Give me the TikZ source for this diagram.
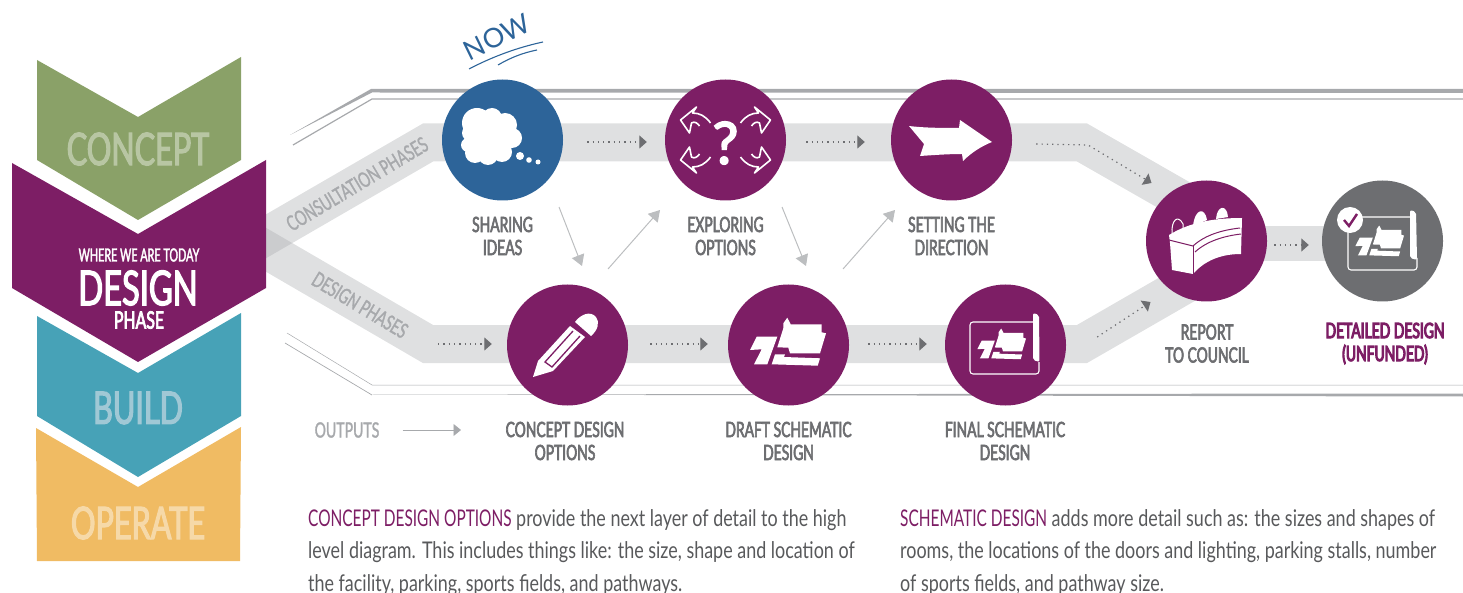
\documentclass[tikz,border=0pt]{standalone}
\usepackage{fontspec}
\setmainfont{Lato}
\newfontfamily\condfont[FakeStretch=0.67]{Lato}
\newfontfamily\labelfont[FakeStretch=0.66,FakeBold=3]{Lato}
\newfontfamily\phasefont[FakeStretch=0.67,FakeBold=1.5]{Lato}
\newfontfamily\strongfont[FakeStretch=0.66,FakeBold=5]{Lato}
\newfontfamily\todayfont[FakeStretch=0.60,FakeBold=2]{Lato}
\newfontfamily\wordfont[FakeStretch=0.68,FakeBold=2.5]{Lato}
\newfontfamily\bodyfont[FakeStretch=0.78]{Lato}
\newfontfamily\heavyfont[FakeBold=3]{Lato}
\usetikzlibrary{arrows.meta}
\definecolor{plum}{HTML}{7D1E65}
\definecolor{leaf}{HTML}{8AA168}
\definecolor{leaftext}{HTML}{B8C6A3}
\definecolor{teal}{HTML}{47A2B7}
\definecolor{tealtext}{HTML}{A0C8D5}
\definecolor{sand}{HTML}{F0BB63}
\definecolor{sandtext}{HTML}{F6D9A8}
\definecolor{sky}{HTML}{2D6499}
\definecolor{slate}{HTML}{6D6E71}
\definecolor{mist}{HTML}{A7A9AC}
\definecolor{haze}{HTML}{BCBEC0}
\definecolor{ink}{HTML}{58595B}
\tikzset{
  band/.style={line width=38pt,color=mist,opacity=0.36},
  rim/.style={color=mist,line width=#1},
  stepdisc/.style={circle,minimum size=121pt,inner sep=0pt,fill=#1},
  dotarrow/.style={color=slate,line width=1.2pt,dash pattern=on 1.3pt off 4pt,-{Triangle[length=7.5pt,width=13pt,sep=0pt]}},
  lightarrow/.style={color=haze,line width=1pt,-{Triangle[length=11pt,width=13pt]}},
  steplabel/.style={font=\labelfont\fontsize{21}{23}\selectfont,color=slate,align=center,inner sep=0pt},
  phaselabel/.style={font=\phasefont\fontsize{21}{23}\selectfont,color=mist,inner sep=0pt},
  bigword/.style={font=\wordfont\fontsize{45}{45}\selectfont,color=#1,inner sep=0pt},
  note/.style={font=\bodyfont\fontsize{23}{32.5}\selectfont,color=ink,align=left,anchor=north west,inner sep=0pt},
  planmark/.pic={
    \fill[white] (-38.5,5) -- (-31.8,-8.3) -- (-11.2,-8.3) -- (-21.2,19.3) -- (-34.5,19.3) -- (-26.8,4.3) -- cycle;
    \fill[white] (-16.8,19.3) -- (-13.5,9.3) -- (-3.5,9.3) -- (-4.5,12) -- (31.5,13.3) -- (29.2,20.7) -- cycle;
    \fill[white] (-11.2,2.3) -- (-5.2,-16.7) -- (-5.2,-21.7) -- (-1.2,-27.3) -- (2.2,-20.7) -- (33.2,-20.7) -- (33.2,-12.7) -- (37.5,-11.7) -- (31.5,8.3) -- (1.5,8.3) -- (-0.2,2.7) -- cycle;
  }
}
\begin{document}
\begin{tikzpicture}[x=1pt,y=-1pt]
  \useasboundingbox (0,0) rectangle (1463,593);
  % circles first, so the bands can refer to them
  \path (502.5,140) node[stepdisc=none] (share) {} (725.5,140) node[stepdisc=none] (explore) {}
        (951.5,140) node[stepdisc=none] (direct) {} (567.5,345) node[stepdisc=none] (concept) {}
        (788.5,345) node[stepdisc=none] (draft) {} (1005.5,345) node[stepdisc=none] (final) {}
        (1206.5,241) node[stepdisc=none] (report) {} (1382.5,241) node[stepdisc=none] (detailed) {};
  % grey bands
  \draw[band] (232,256) -- (428,142.5) -- (1082,142.5) -- (1207,214);
  \draw[band] (232,230) -- (428,344) -- (1082,344) -- (1207,272);
  \draw[band,line width=35pt] ([yshift=-2.5pt]report.center) -- ([yshift=-2.5pt]detailed.center);
  % rough outline
  \fill[mist] (290,135) -- (371,89) -- (1463,89) -- (1463,93) -- (372,92.5) -- cycle;
  \draw[rim=1.2pt] (293,145) -- (372,99) -- (1463,99);
  \draw[rim=0.5pt] (287,333) -- (372,385) -- (1463,385);
  \draw[rim=0.7pt] (285,343) -- (372,395);
  \fill[mist] (372,394.5) -- (1463,393.5) -- (1463,396.5) -- cycle;
  % chevrons
  \fill[leaf] (37,60) -- (138,117) -- (241,57) -- (241,160) -- (138,220) -- (37,160) -- cycle;
  \fill[sand] (36,428) -- (138,487) -- (241,427) -- (240,561) -- (37,561) -- cycle;
  \fill[teal] (37,316) -- (138,373) -- (241,313) -- (241,416) -- (138,477) -- (37,416) -- cycle;
  \fill[plum] (12,163) -- (138,234) -- (266,160) -- (266,288) -- (138,362) -- (12,288) -- cycle;
  \node[bigword=leaftext] (conceptword) at (138,149) {CONCEPT};
  \node[font=\todayfont\fontsize{18}{18}\selectfont,color=white,inner sep=0pt] (today) at (139,255) {WHERE WE ARE TODAY};
  \node[font=\wordfont\fontsize{48}{48}\selectfont,color=white,inner sep=0pt] (designword) at (138,288) {DESIGN};
  \node[font=\labelfont\fontsize{24}{24}\selectfont,color=white,inner sep=0pt] (phaseword) at (139,320) {PHASE};
  \node[bigword=tealtext] (buildword) at (138,408) {BUILD};
  \node[bigword=sandtext] (operateword) at (138,523) {OPERATE};
  % circles
  \node[stepdisc=sky] at (share) {};
  \node[stepdisc=plum] at (explore) {};
  \node[stepdisc=plum] at (direct) {};
  \node[stepdisc=plum] at (concept) {};
  \node[stepdisc=plum] at (draft) {};
  \node[stepdisc=plum] at (final) {};
  \node[stepdisc=plum] at (report) {};
  \node[stepdisc=slate] at (detailed) {};
  % connectors
  \draw[dotarrow] ([shift={(24,2)}]share.east) -- ([shift={(-18,2)}]explore.west);
  \draw[dotarrow] ([shift={(20,2)}]explore.east) -- ([shift={(-26,2)}]direct.west);
  \draw[dotarrow] ([shift={(24,4)}]direct.east) -- (1088,145) -- ([shift={(-55,-58)}]report.center);
  \coordinate (bandstart) at (438,344);
  \draw[dotarrow] (bandstart) -- ([shift={(-15,-1)}]concept.west);
  \draw[dotarrow] ([shift={(22,-1)}]concept.east) -- ([shift={(-20,-1)}]draft.west);
  \draw[dotarrow] ([shift={(19,-1)}]draft.east) -- ([shift={(-18,-1)}]final.west);
  \draw[dotarrow] ([shift={(31,-8)}]final.east) -- ([shift={(-56,61)}]report.center);
  \draw[dotarrow] ([shift={(7,4)}]report.east) -- ([shift={(-13,4)}]detailed.west);
  \coordinate (a1) at (559,207); \coordinate (a2) at (582,266);
  \coordinate (b1) at (608,269); \coordinate (b2) at (660,210);
  \coordinate (c1) at (782,207); \coordinate (c2) at (806,266);
  \coordinate (d1) at (843,269); \coordinate (d2) at (895,210);
  \draw[lightarrow] (a1) -- (a2);
  \draw[lightarrow] (b1) -- (b2);
  \draw[lightarrow] (c1) -- (c2);
  \draw[lightarrow] (d1) -- (d2);
  % now mark
  \node[font=\fontsize{27}{27}\selectfont,color=sky,rotate=26,inner sep=0pt] (nowmark) at (497,37) {NOW};
  \draw[sky,line width=1.1pt] (469,69) .. controls (490,58) and (515,48) .. (543,42);
  \draw[sky,line width=1.1pt] (498,65) .. controls (510,58) and (522,53) .. (537,50);
  % cloud
  \fill[white] (490,137) circle (22pt) (477,123) circle (15pt) (492,118) circle (10pt) (505,125) circle (12pt)
    (512,138) circle (10pt) (502,152) circle (10pt) (488,155) circle (10pt) (475,153) circle (10pt)
    (468,145) circle (7pt) (470,133) circle (8pt);
  \fill[white] (520,156) circle (4pt) (529,160) circle (2.8pt) (538,162) circle (2.5pt);
  % question mark and four arrows
  \node[font=\heavyfont\fontsize{58}{58}\selectfont,color=white,inner sep=0pt] (query) at (725.5,143) {?};
  \foreach \sx/\sy in {1/1,-1/1,1/-1,-1/-1}{
    \begin{scope}[shift={(725.5,140)},xscale=\sx,yscale=\sy]
      \draw[white,line width=1.6pt,line join=round] (15,-17) .. controls (20,-24) and (26,-27) .. (33,-27) -- (29,-33) -- (45,-20) -- (36,-7) -- (34,-17) .. controls (31,-19) and (28,-17) .. (26,-14);
    \end{scope}
  }
  % flag arrow
  \fill[white] (909,126) .. controls (925,128) and (945,128) .. (959,128) -- (960,120) -- (992,142) .. controls (982,146) and (972,152) .. (963,161) -- (962,154) .. controls (948,154) and (935,155) .. (920,156) -- (924,144) -- cycle;
  % pencil
  \fill[white] (533,377) -- (538,361) -- (570,326) -- (585,337) -- (553,371) -- cycle;
  \fill[white] (575,322) .. controls (580,315) and (590,310) .. (596,317) .. controls (600,322) and (598,330) .. (591,336) -- cycle;
  \draw[plum,line width=1.3pt] (573,331) -- (545,362) -- (552,367) -- (580,336);
  % plans
  \pic at (draft) {planmark};
  \pic[scale=0.64] at (1002,346) {planmark};
  \pic[scale=0.64] at (1380,243) {planmark};
  \draw[white,line width=1.1pt,rounded corners=3pt] (1034,322) -- (970,322) -- (970,374) -- (1039,374) -- (1039,362);
  \fill[white,rounded corners=2pt] (1033,313) -- (1039,315) -- (1039.5,362) -- (1033,360) -- cycle;
  \draw[white,line width=1.1pt,rounded corners=3pt] (1410,217) -- (1362,217) (1348,232) -- (1348,270) -- (1417,270) -- (1417,258);
  \fill[white,rounded corners=2pt] (1410,210) -- (1416,212) -- (1417,260) -- (1410,258) -- cycle;
  \fill[white] (1350,220) circle (13pt);
  \draw[plum,line width=2.4pt] (1344,220) -- (1349,226) -- (1357,214);
  % table
  \draw[white,line width=1pt] (1172,234) .. controls (1171,220) and (1178,214) .. (1183,224) -- (1183,230);
  \fill[white] (1193,226) .. controls (1195,208) and (1205,207) .. (1207,220) -- cycle;
  \fill[white] (1216,219) .. controls (1217,205) and (1227,204) .. (1228,217) -- cycle;
  \fill[white] (1169,235) .. controls (1190,222) and (1215,218) .. (1242,218) -- (1241,254) .. controls (1222,254) and (1205,260) .. (1193,274) -- (1172,270) -- (1170,243) -- cycle;
  \draw[plum,line width=1pt] (1169,240) -- (1193,246) .. controls (1205,235) and (1222,230) .. (1240,228);
  \draw[plum,line width=1pt] (1193,246) -- (1193,274);
  \draw[plum,line width=1pt] (1195,252) .. controls (1207,241) and (1224,236) .. (1241,234);
  % labels
  \node[steplabel] (sharetext) at (502.5,236) {SHARING\\IDEAS};
  \node[steplabel] (exploretext) at (725.5,236) {EXPLORING\\OPTIONS};
  \node[steplabel] (directtext) at (951.5,236) {SETTING THE\\DIRECTION};
  \node[steplabel] (concepttext) at (565,441) {CONCEPT DESIGN\\OPTIONS};
  \node[steplabel] (drafttext) at (788.5,441) {DRAFT SCHEMATIC\\DESIGN};
  \node[steplabel] (finaltext) at (1005,441) {FINAL SCHEMATIC\\DESIGN};
  \node[steplabel] (reporttext) at (1207,343.5) {REPORT\\TO COUNCIL};
  \node[steplabel,font=\strongfont\fontsize{21}{23}\selectfont,color=plum] (detailedtext) at (1385,343.5) {DETAILED DESIGN\\(UNFUNDED)};
  \node[phaselabel,rotate=31] (consultword) at (357,184) {CONSULTATION PHASES};
  \node[phaselabel,rotate=-31] (designphase) at (360,305) {DESIGN PHASES};
  \node[phaselabel] (outputs) at (347,430) {OUTPUTS};
  \coordinate (outputend) at (461,430);
  \draw[color=mist,line width=0.9pt,-{Triangle[length=7.5pt,width=12pt]}] ([xshift=23pt]outputs.east) -- (outputend);
  % notes
  \node[note] (leftnote) at (308,509) {{\condfont\color{plum}CONCEPT DESIGN OPTIONS} provide the next layer of detail to the high\\level diagram. This includes things like: the size, shape and location of\\the facility, parking, sports fields, and pathways.};
  \node[note] (rightnote) at (900,509) {{\condfont\color{plum}SCHEMATIC DESIGN} adds more detail such as: the sizes and shapes of\\rooms, the locations of the doors and lighting, parking stalls, number\\of sports fields, and pathway size.};
\end{tikzpicture}
\end{document}
